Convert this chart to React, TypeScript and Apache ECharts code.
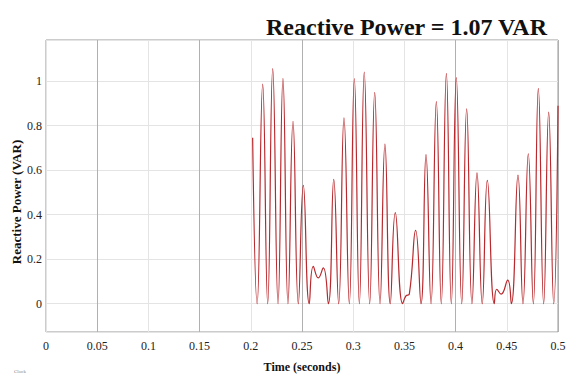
import React, { useEffect, useRef } from "react";
import * as echarts from "echarts";

const titleText = "Reactive Power = 1.07 VAR";
const xName = "Time (seconds)";
const yName = "Reactive Power (VAR)";

const times = [
  0.2018, 0.2062, 0.2116, 0.2165, 0.2214, 0.2266, 0.2314, 0.2363, 0.2412, 0.2464,
  0.2513, 0.2571, 0.261, 0.2659, 0.2708, 0.2757, 0.281, 0.2858, 0.291, 0.2962,
  0.3011, 0.306, 0.3108, 0.3161, 0.321, 0.3262, 0.331, 0.3362, 0.3411, 0.3483,
  0.3515, 0.3548, 0.361, 0.3662, 0.3711, 0.376, 0.3812, 0.386, 0.391, 0.3958,
  0.4007, 0.406, 0.4108, 0.416, 0.4209, 0.426, 0.431, 0.4378, 0.4402, 0.4444,
  0.4509, 0.4544, 0.4609, 0.4658, 0.471, 0.4759, 0.4808, 0.486, 0.4909, 0.4958,
  0.5,
];
const values = [
  0.746, 0, 0.987, 0, 1.056, 0, 1.013, 0, 0.82, 0,
  0.532, 0, 0.168, 0.116, 0.161, 0, 0.559, 0, 0.835, 0,
  1.012, 0, 1.041, 0, 0.95, 0, 0.717, 0, 0.409, 0,
  0.035, 0.043, 0.33, 0, 0.67, 0, 0.908, 0, 1.035, 0,
  1.016, 0, 0.876, 0, 0.588, 0, 0.554, 0, 0.065, 0.043,
  0.106, 0, 0.578, 0, 0.674, 0, 0.968, 0, 0.861, 0,
  0.89,
];

const serif = "'Liberation Serif', 'DejaVu Serif', serif";

export default function App() {
  const ref = useRef<HTMLDivElement>(null);
  useEffect(() => {
    if (!ref.current) return;
    document.body.style.margin = "0";
    const chart = echarts.init(ref.current, undefined, { renderer: "svg" });
    const light = "#e4e4e4";
    const dark = "#b0b0b0";
    chart.setOption({
      animation: false,
      backgroundColor: "#ffffff",
      title: {
        text: titleText,
        left: 261,
        top: 10,
        textStyle: { fontFamily: serif, fontWeight: "bold", fontSize: 24, color: "#111" },
      },
      grid: {
        left: 46,
        right: 13,
        top: 40,
        bottom: 40,
        show: true,
        borderColor: "#999",
        borderWidth: 1,
      },
      xAxis: {
        type: "value",
        min: 0,
        max: 0.5,
        interval: 0.05,
        name: xName,
        nameLocation: "middle",
        nameGap: 29,
        nameTextStyle: { fontFamily: serif, fontWeight: "bold", fontSize: 12, color: "#111" },
        axisLine: { show: false },
        axisTick: { show: false },
        axisLabel: { fontFamily: serif, fontSize: 12, color: "#222", margin: 8 },
        splitLine: {
          show: true,
          lineStyle: {
            color: [light, dark, light, dark, light, dark, light, light, dark, light, dark],
            width: 1,
          },
        },
      },
      yAxis: {
        type: "value",
        min: -0.127,
        max: 1.185,
        splitNumber: 7,
        axisLine: { show: false },
        axisTick: { show: false },
        axisLabel: {
          fontFamily: serif,
          fontSize: 12,
          color: "#222",
          margin: 4,
          showMinLabel: false,
          showMaxLabel: false,
        },
        splitLine: { show: true, lineStyle: { color: light, width: 1 } },
      },
      graphic: [
        {
          type: "text",
          x: 16,
          y: 202,
          rotation: Math.PI / 2,
          style: {
            text: yName,
            fontFamily: serif,
            fontWeight: "bold",
            fontSize: 13,
            fill: "#111",
            align: "center",
            verticalAlign: "middle",
          },
        },
        {
          type: "text",
          left: 14,
          top: 369,
          style: { text: "Clock", fontSize: 5, fill: "#888", fontFamily: serif },
        },
      ],
      series: [
        {
          type: "line",
          data: times.map((t, i) => [t, values[i]]),
          smooth: 0.5,
          showSymbol: false,
          lineStyle: { color: "#b8282c", width: 1.2 },
        },
      ],
    });
    return () => chart.dispose();
  }, []);
  return <div ref={ref} style={{ width: 571, height: 378 }} />;
}
